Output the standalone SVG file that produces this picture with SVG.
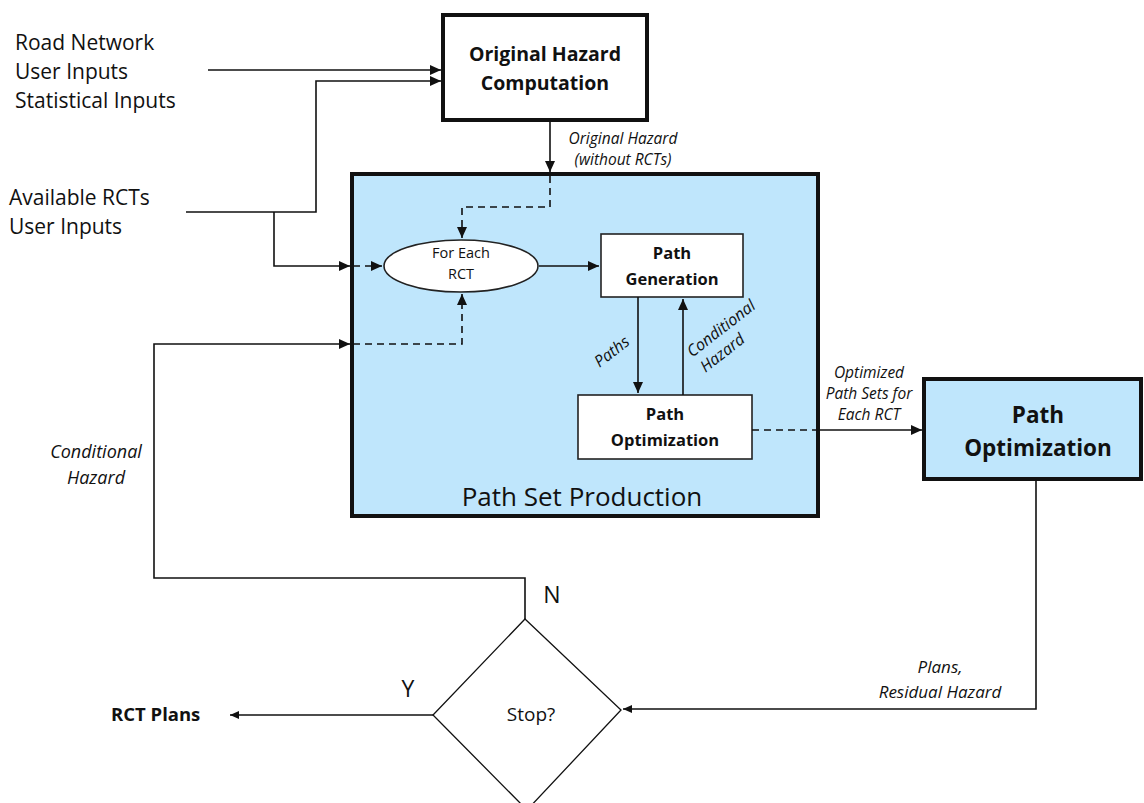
<svg xmlns="http://www.w3.org/2000/svg" width="1144" height="803" viewBox="0 0 1144 803">
  <style>
    text { font-family: "Open Sans", "Noto Sans", "Liberation Sans", sans-serif; fill: #111; }
    .lbl { font-size: 21px; }
    .it { font-style: italic; text-anchor: middle; }
    .bold { font-weight: bold; text-anchor: middle; }
    .mid { text-anchor: middle; }
    .thick { fill: #fff; stroke: #111; stroke-width: 4; }
    .blue { fill: #BFE6FC; stroke: #111; stroke-width: 4; }
    .thin { fill: #fff; stroke: #222; stroke-width: 1.6; }
    .wire { fill: none; stroke: #111; stroke-width: 1.6; }
    .dash { fill: none; stroke: #111; stroke-width: 1.6; stroke-dasharray: 7 5; }
  </style>
  <defs>
    <marker id="arr" markerUnits="userSpaceOnUse" markerWidth="12" markerHeight="10" refX="11" refY="5" orient="auto">
      <path d="M0,0 L11,5 L0,10 z" fill="#111"/>
    </marker>
    <marker id="arrS" markerUnits="userSpaceOnUse" markerWidth="10" markerHeight="8" refX="9" refY="4" orient="auto">
      <path d="M0,0 L9,4 L0,8 z" fill="#111"/>
    </marker>
  </defs>

  <!-- input labels -->
  <g id="inputs-hazard">
    <text class="lbl" x="15" y="50">Road Network</text>
    <text class="lbl" x="15" y="79">User Inputs</text>
    <text class="lbl" x="15" y="108">Statistical Inputs</text>
  </g>
  <g id="inputs-rct">
    <text class="lbl" x="9" y="205">Available RCTs</text>
    <text class="lbl" x="9" y="234">User Inputs</text>
  </g>

  <!-- Path Set Production container -->
  <g id="path-set-production">
    <rect class="blue" x="352" y="174" width="466" height="342"/>
    <text class="mid" x="582" y="506" style="font-size:26px">Path Set Production</text>
  </g>

  <g id="original-hazard">
    <rect class="thick" x="443" y="15" width="204" height="105"/>
    <text class="bold" x="545" y="61" style="font-size:19.5px">Original Hazard</text>
    <text class="bold" x="545" y="90" style="font-size:19.5px">Computation</text>
  </g>

  <g id="for-each-rct">
    <ellipse cx="461" cy="266" rx="77" ry="26" fill="#fff" stroke="#222" stroke-width="1.6"/>
    <text class="mid" x="461" y="258" style="font-size:14.5px">For Each</text>
    <text class="mid" x="461" y="279" style="font-size:14.5px">RCT</text>
  </g>

  <g id="path-generation">
    <rect class="thin" x="601" y="234" width="142" height="63"/>
    <text class="bold" x="672" y="259" style="font-size:16.5px">Path</text>
    <text class="bold" x="672" y="285" style="font-size:16.5px">Generation</text>
  </g>

  <g id="path-optimization-inner">
    <rect class="thin" x="578" y="395" width="174" height="64"/>
    <text class="bold" x="665" y="420" style="font-size:16.5px">Path</text>
    <text class="bold" x="665" y="446" style="font-size:16.5px">Optimization</text>
  </g>

  <g id="path-optimization">
    <rect class="blue" x="924" y="379" width="217" height="100"/>
    <text class="bold" x="1038" y="423" style="font-size:22.5px">Path</text>
    <text class="bold" x="1038" y="456" style="font-size:22.5px">Optimization</text>
  </g>

  <g id="stop-decision">
    <polygon points="525,619 621,710 527,810 433,715" fill="#fff" stroke="#111" stroke-width="1.3"/>
    <text class="mid" x="531" y="721" style="font-size:19px">Stop?</text>
  </g>

  <g id="rct-plans">
    <text x="111" y="721" style="font-size:18.5px;font-weight:bold">RCT Plans</text>
  </g>

  <!-- connectors -->
  <g id="connectors">
    <!-- hazard inputs -->
    <path class="wire" d="M208,70 H441" marker-end="url(#arr)"/>
    <path class="wire" d="M186,212 H316 V81 H441" marker-end="url(#arr)"/>
    <!-- RCT inputs into the loop -->
    <path class="wire" d="M274,212 V266 H350" marker-end="url(#arr)"/>
    <path class="dash" d="M353,266 H382" marker-end="url(#arr)"/>
    <!-- original hazard into loop -->
    <path class="wire" d="M550,120 V172" marker-end="url(#arr)"/>
    <path class="dash" d="M550,176 V207 H462 V238" marker-end="url(#arr)"/>
    <!-- conditional hazard feedback -->
    <path class="wire" d="M525,619 V578 H154 V344 H350" marker-end="url(#arr)"/>
    <path class="dash" d="M353,344 H462 V294" marker-end="url(#arr)"/>
    <!-- inner flow -->
    <path class="wire" d="M539,266 H599" marker-end="url(#arr)"/>
    <path class="wire" d="M638,297 V393" marker-end="url(#arr)"/>
    <path class="wire" d="M683,395 V299" marker-end="url(#arr)"/>
    <!-- optimized sets out -->
    <path class="dash" d="M752,430 H818"/>
    <path class="wire" d="M818,430 H922" marker-end="url(#arr)"/>
    <!-- plans to decision -->
    <path class="wire" d="M1036,479 V709 H623" marker-end="url(#arrS)"/>
    <!-- yes branch -->
    <path class="wire" d="M433,715 H230" marker-end="url(#arrS)"/>

    <!-- connector labels -->
    <text class="it" x="623" y="144" style="font-size:15.5px">Original Hazard</text>
    <text class="it" x="623" y="165" style="font-size:15.5px">(without RCTs)</text>
    <text class="it" transform="translate(612,352) rotate(-38)" x="0" y="5" style="font-size:16px">Paths</text>
    <g transform="translate(722,341) rotate(-38)">
      <text class="it" x="7" y="-5" style="font-size:16px">Conditional</text>
      <text class="it" x="-7" y="15" style="font-size:16px">Hazard</text>
    </g>
    <text class="it" x="869" y="378" style="font-size:15.5px">Optimized</text>
    <text class="it" x="869" y="399" style="font-size:15.5px">Path Sets for</text>
    <text class="it" x="869" y="420" style="font-size:15.5px">Each RCT</text>
    <text class="it" x="96" y="458" style="font-size:18px">Conditional</text>
    <text class="it" x="96" y="484" style="font-size:18px">Hazard</text>
    <text class="it" x="940" y="673" style="font-size:17px">Plans,</text>
    <text class="it" x="940" y="698" style="font-size:17px">Residual Hazard</text>
    <text class="mid" x="552" y="603" style="font-size:23px">N</text>
    <text class="mid" x="408" y="697" style="font-size:23px">Y</text>
  </g>
</svg>
